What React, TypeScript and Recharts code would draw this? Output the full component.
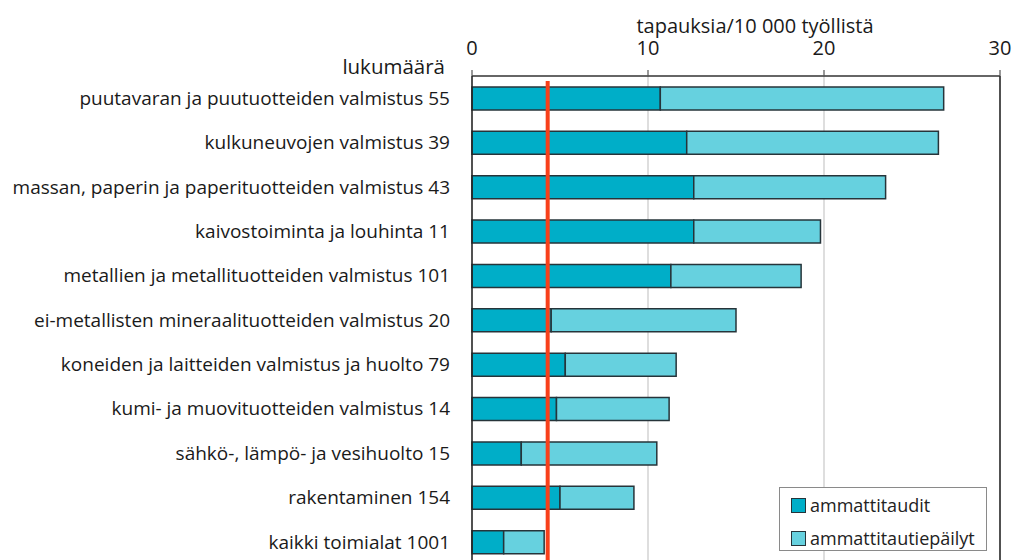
import React from 'react';
import { BarChart, Bar, XAxis, YAxis, CartesianGrid, ReferenceLine, Legend } from 'recharts';

const categories = [
  'puutavaran ja puutuotteiden valmistus 55',
  'kulkuneuvojen valmistus 39',
  'massan, paperin ja paperituotteiden valmistus 43',
  'kaivostoiminta ja louhinta 11',
  'metallien ja metallituotteiden valmistus 101',
  'ei-metallisten mineraalituotteiden valmistus 20',
  'koneiden ja laitteiden valmistus ja huolto 79',
  'kumi- ja muovituotteiden valmistus 14',
  'sähkö-, lämpö- ja vesihuolto 15',
  'rakentaminen 154',
  'kaikki toimialat 1001',
];

// tapauksia / 10 000 työllistä
const ammattitaudit = [10.7, 12.2, 12.6, 12.6, 11.3, 4.5, 5.3, 4.8, 2.8, 5.0, 1.8];
const ammattitautiepailyt = [16.1, 14.3, 10.9, 7.2, 7.4, 10.5, 6.3, 6.4, 7.7, 4.2, 2.3];

const xTicks = [0, 10, 20, 30];
const average = 4.3;

const data = categories.map((name, i) => ({
  name,
  ammattitaudit: ammattitaudit[i],
  ammattitautiepailyt: ammattitautiepailyt[i],
}));

const FONT = '"Open Sans", sans-serif';
const DARK = '#00aec8';
const LIGHT = '#66d1df';
const EDGE = '#26343a';

const LegendBox = () => (
  <div
    style={{
      border: '1px solid #8a8a8a',
      background: '#fff',
      width: 208,
      height: 64,
      boxSizing: 'border-box',
      fontFamily: FONT,
      fontSize: 18,
      color: '#222',
      padding: '5px 0 0 11px',
    }}
  >
    {[
      ['ammattitaudit', DARK],
      ['ammattitautiepäilyt', LIGHT],
    ].map(([label, color]) => (
      <div key={label} style={{ display: 'flex', alignItems: 'center', height: 24, marginBottom: 9 }}>
        <span
          style={{
            display: 'inline-block',
            width: 13,
            height: 13,
            background: color,
            border: `1.5px solid ${EDGE}`,
            marginRight: 4,
          }}
        />
        <span>{label}</span>
      </div>
    ))}
  </div>
);

export default function App() {
  return (
    <div style={{ position: 'fixed', left: 0, top: 0, width: 1016, height: 560, overflow: 'hidden', background: '#fff' }}>
      <BarChart
        width={1016}
        height={564}
        data={data}
        layout="vertical"
        margin={{ top: 0, right: 16, left: 0, bottom: 0 }}
        barSize={23}
      >
        <CartesianGrid horizontal={false} stroke="#c8c8c8" strokeWidth={1.2} />
        <XAxis
          type="number"
          orientation="top"
          domain={[0, 30]}
          ticks={xTicks}
          height={76}
          axisLine={{ stroke: '#333', strokeWidth: 1.5 }}
          tickLine={{ stroke: '#555', strokeWidth: 1.2 }}
          tickSize={6}
          tickMargin={15}
          tick={{ fontFamily: FONT, fontSize: 20, fill: '#1a1a1a' }}
          label={{
            content: () => (
              <g>
                <text x={755} y={33} textAnchor="middle" fontFamily={FONT} fontSize={20} fill="#1a1a1a">
                  tapauksia/10 000 työllistä
                </text>
                <text x={445} y={74} textAnchor="end" fontFamily={FONT} fontSize={20.5} fill="#1a1a1a">
                  lukumäärä
                </text>
              </g>
            ),
          }}
        />
        <YAxis
          type="category"
          dataKey="name"
          width={472}
          axisLine={{ stroke: '#222', strokeWidth: 1.5 }}
          tickLine={false}
          tickSize={0}
          tickMargin={22}
          interval={0}
          tick={{ fontFamily: FONT, fontSize: 19, fill: '#1a1a1a' }}
        />
        <ReferenceLine x={30} stroke="#222" strokeWidth={1.5} />
        <Bar dataKey="ammattitaudit" name="ammattitaudit" stackId="a" fill={DARK} stroke={EDGE} strokeWidth={1.5} isAnimationActive={false} />
        <Bar dataKey="ammattitautiepailyt" name="ammattitautiepäilyt" stackId="a" fill={LIGHT} stroke={EDGE} strokeWidth={1.5} isAnimationActive={false} />
        <ReferenceLine
          x={average}
          stroke="#f8401a"
          strokeWidth={4}
          shape={(p: any) => <line x1={p.x1} x2={p.x2} y1={p.y1 + 5} y2={p.y2} stroke="#f8401a" strokeWidth={4} />}
        />
        <Legend
          layout="horizontal"
          verticalAlign="middle"
          align="center"
          content={<LegendBox />}
          wrapperStyle={{ left: 779, top: 487, width: 208, height: 64 }}
        />
      </BarChart>
    </div>
  );
}
